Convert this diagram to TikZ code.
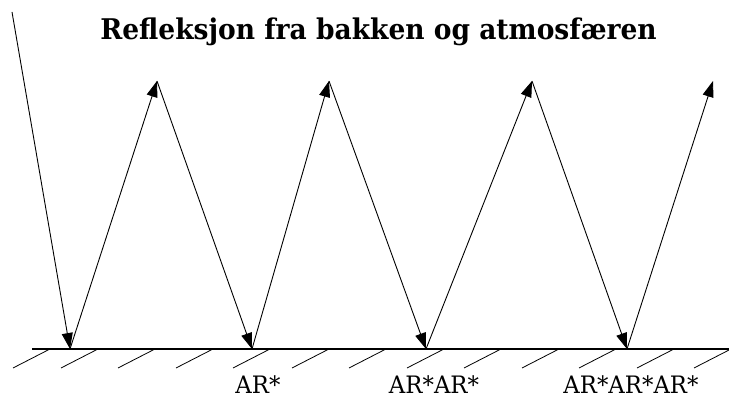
\documentclass[tikz,border=0pt]{standalone}
\usepackage{fontspec}
\setmainfont{DejaVu Serif}
\newfontfamily\titlefont[FakeStretch=0.93]{DejaVu Serif}
\newfontfamily\labelfont[FakeStretch=0.95]{DejaVu Serif}
\usetikzlibrary{arrows.meta}
\begin{document}
\begin{tikzpicture}[x=1pt,y=-1pt,
  ray/.style={line width=0.9pt,-{Triangle[length=16pt,width=11pt]}},
  hatch/.style={line width=0.8pt},
  ground/.style={line width=1.3pt},
  lbl/.style={anchor=base,inner sep=0pt,text depth=0pt,font=\labelfont\fontsize{24}{26}\selectfont},
  ttl/.style={anchor=base,inner sep=0pt,font=\titlefont\bfseries\fontsize{28.5}{31}\selectfont}]
\useasboundingbox (0,0) rectangle (729,398);
\node[ttl] (title) at (378.5,40) {Refleksjon fra bakken og atmosfæren};
% points
\coordinate (s) at (12,12);
\coordinate (g1) at (70,349);
\coordinate (t1) at (157,81);
\coordinate (g2) at (252,349);
\coordinate (t2) at (329,81);
\coordinate (g3) at (426,349);
\coordinate (t3) at (532,81);
\coordinate (g4) at (627,349);
\coordinate (t4) at (713,81);
\coordinate (gl) at (32,349);
\coordinate (gr) at (729,349);
% ground
\draw[ground] (gl) -- (gr);
\foreach \x in {13,61,118,176,233,292,349,407,464,522,579,637,694}
  \draw[hatch] (\x,368) -- (\x+37,349);
% rays
\draw[ray] (s) -- (g1);
\draw[ray] (g1) -- (t1);
\draw[ray] (t1) -- (g2);
\draw[ray] (g2) -- (t2);
\draw[ray] (t2) -- (g3);
\draw[ray] (g3) -- (t3);
\draw[ray] (t3) -- (g4);
\draw[ray] (g4) -- (t4);
% labels
\node[lbl] (l1) at (258,393.5) {AR*};
\node[lbl] (l2) at (434,393.5) {AR*AR*};
\node[lbl] (l3) at (631,393.5) {AR*AR*AR*};
\end{tikzpicture}
\end{document}
